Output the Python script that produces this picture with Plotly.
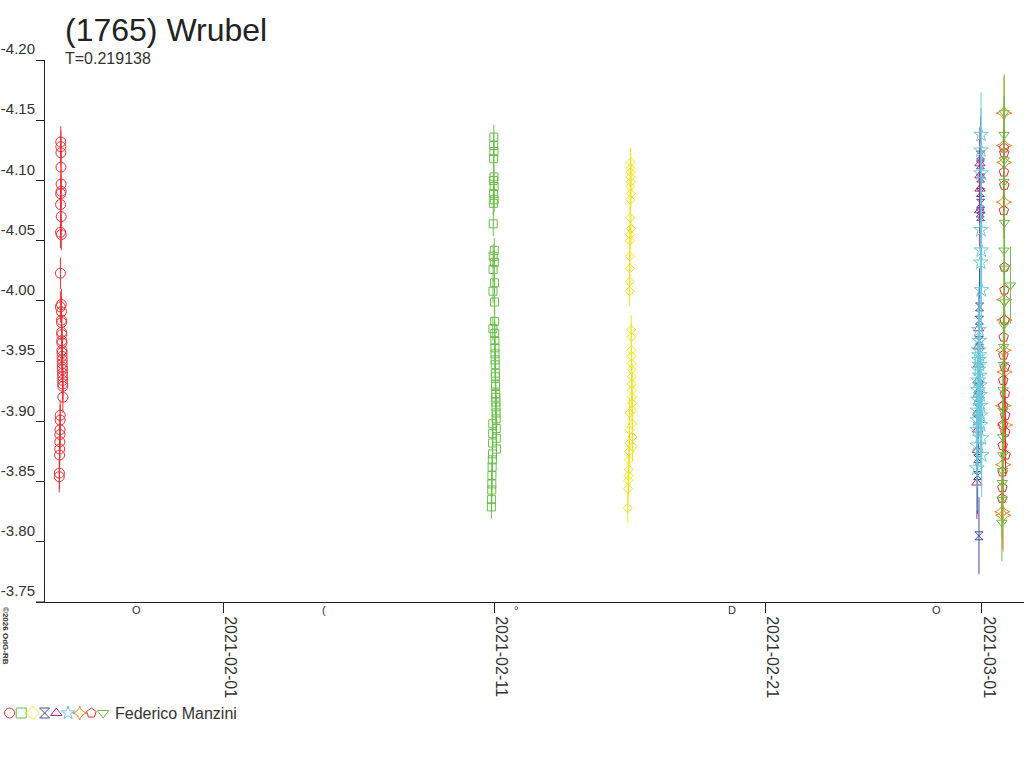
import plotly.graph_objects as go
import pandas as pd

# ---------------- data ----------------
# each session: UTC start, minute offsets, magnitudes, typical error
red_start = "2021-01-25 23:00"
red_min = [80, 84, 88, 92, 96, 100, 74, 70, 104, 66, 108, 62, 112, 58, 116, 120, 124, 128, 132, 136,
           140, 144, 148, 152, 156, 160, 164, 168, 172, 176, 180, 184, 188, 192, 50, 46, 40, 36, 30, 24,
           18, 8, 0]
red_mag = [-4.132, -4.128, -4.123, -4.111, -4.097, -4.091, -4.089, -4.080, -4.070, -4.057, -4.055, -4.023,
           -3.997, -3.995, -3.991, -3.984, -3.982, -3.974, -3.972, -3.967, -3.965, -3.959, -3.957, -3.954,
           -3.951, -3.948, -3.945, -3.943, -3.940, -3.937, -3.934, -3.931, -3.929, -3.920, -3.905, -3.901,
           -3.893, -3.889, -3.883, -3.877, -3.872, -3.857, -3.854]
red_err = 0.013

green_start = "2021-02-10 21:40"
green_min = [130, 125, 135, 120, 140, 115, 145, 110, 150, 105, 100, 155, 95, 160, 90, 165, 85, 170, 175, 80,
             180, 185, 190, 195, 200, 205, 210, 215, 220, 225, 230, 235, 240, 245, 250, 255, 75, 260, 70, 265,
             65, 270, 60, 50, 40, 30, 25, 20, 10, 0]
green_mag = [-4.136, -4.129, -4.124, -4.118, -4.103, -4.100, -4.095, -4.089, -4.084, -4.081, -4.064, -4.042,
             -4.037, -4.032, -4.026, -4.015, -4.008, -3.999, -3.983, -3.977, -3.973, -3.967, -3.961, -3.956,
             -3.951, -3.947, -3.940, -3.937, -3.931, -3.929, -3.923, -3.920, -3.916, -3.912, -3.907, -3.902,
             -3.898, -3.894, -3.890, -3.886, -3.882, -3.877, -3.873, -3.868, -3.862, -3.855, -3.848, -3.843,
             -3.835, -3.829]
green_err = 0.010

yellow_start = "2021-02-15 22:30"
yellow_min = [150, 145, 155, 140, 160, 135, 165, 130, 125, 170, 120, 115, 110, 105, 100, 95, 180, 185, 190, 195,
              200, 205, 210, 215, 220, 225, 230, 235, 90, 240, 85, 245, 80, 250, 70, 60, 50, 40, 30, 15, 0]
yellow_mag = [-4.115, -4.110, -4.107, -4.103, -4.099, -4.095, -4.089, -4.084, -4.069, -4.060, -4.055, -4.050,
              -4.037, -4.027, -4.016, -4.008, -3.976, -3.970, -3.959, -3.954, -3.948, -3.943, -3.937, -3.931,
              -3.926, -3.920, -3.915, -3.909, -3.907, -3.898, -3.893, -3.887, -3.882, -3.879, -3.875, -3.868,
              -3.860, -3.855, -3.851, -3.844, -3.828]
yellow_err = 0.012

blue_start = "2021-02-28 19:30"
blue_min = [200, 195, 205, 190, 210, 185, 215, 150, 140, 130, 100, 90, 80, 70, 50, 40, 120]
blue_mag = [-4.121, -4.113, -4.102, -4.090, -4.081, -4.073, -4.070, -3.995, -3.984, -3.967, -3.928, -3.920,
            -3.911, -3.901, -3.869, -3.855, -3.805]
blue_err = 0.032

magenta_start = "2021-02-28 19:00"
magenta_min = [200, 195, 205, 190, 140, 130, 120, 110, 100, 90, 80, 60, 40]
magenta_mag = [-4.114, -4.104, -4.093, -4.075, -3.977, -3.962, -3.947, -3.934, -3.922, -3.907, -3.893, -3.876,
               -3.849]
magenta_err = 0.030

cyan_start = "2021-02-28 19:30"
cyan_min = [230, 225, 235, 220, 240, 215, 245, 120, 130, 110, 140, 100, 150, 90, 160, 80, 170, 70, 180, 60,
            190, 50, 200, 40, 210, 30, 255, 20, 265, 10]
cyan_mag = [-4.138, -4.125, -4.106, -4.059, -4.042, -4.032, -4.009, -3.976, -3.967, -3.959, -3.955, -3.951,
            -3.947, -3.943, -3.938, -3.934, -3.930, -3.926, -3.922, -3.918, -3.913, -3.909, -3.905, -3.901,
            -3.897, -3.893, -3.886, -3.880, -3.872, -3.861]
cyan_err = 0.035

orange_start = "2021-03-01 16:00"
orange_min = [220, 215, 225, 210, 230, 240, 200, 250, 190, 260, 180, 130, 170]
orange_mag = [-4.156, -4.129, -4.115, -4.082, -4.001, -3.984, -3.959, -3.941, -3.913, -3.897, -3.864, -3.825,
              -3.822]
orange_err = 0.030

pent_start = "2021-03-01 16:00"
pent_min = [220, 230, 215, 235, 210, 240, 245, 250, 200, 190, 260, 180, 270, 170, 280, 160, 290, 150, 300, 140,
            130, 120]
pent_mag = [-4.127, -4.123, -4.107, -4.096, -4.075, -4.028, -4.009, -3.984, -3.970, -3.955, -3.945, -3.934,
            -3.923, -3.913, -3.905, -3.897, -3.891, -3.880, -3.872, -3.858, -3.845, -3.836]
pent_err = 0.016

gtri_start = "2021-03-01 16:00"
gtri_min = [230, 225, 235, 220, 240, 215, 245, 560, 250, 210, 200, 190, 180, 170, 160, 150, 140, 130, 120, 110]
gtri_mag = [-4.156, -4.138, -4.117, -4.099, -4.065, -4.042, -4.027, -4.013, -3.999, -3.980, -3.962, -3.947,
            -3.926, -3.909, -3.887, -3.872, -3.859, -3.849, -3.835, -3.816]
gtri_err = 0.032

y_ticks = [-4.20, -4.15, -4.10, -4.05, -4.00, -3.95, -3.90, -3.85, -3.80, -3.75]
x_ticks = ["2021-02-01", "2021-02-11", "2021-02-21", "2021-03-01"]
x_range = ["2021-01-25 10:22", "2021-03-02 13:22"]
moon_dates = ["2021-01-28 19:16", "2021-02-04 17:37", "2021-02-11 19:06", "2021-02-19 18:47", "2021-02-27 08:17"]
moon_marks = ["O", "(", "°", "D", "O"]
observer = "Federico Manzini"
title = "(1765) Wrubel"
period_text = "T=0.219138"

# ---------------- styling ----------------
series = [
    (red_start, red_min, red_mag, red_err, "circle-open", 10, "#ee3036"),
    (green_start, green_min, green_mag, green_err, "square-open", 8, "#6abf4b"),
    (yellow_start, yellow_min, yellow_mag, yellow_err, "diamond-open", 7, "#f5e41e"),
    (blue_start, blue_min, blue_mag, blue_err, "hourglass-open", 8, "#3a52a3"),
    (magenta_start, magenta_min, magenta_mag, magenta_err, "triangle-up-open", 9, "#b72a80"),
    (cyan_start, cyan_min, cyan_mag, cyan_err, "star-open", 11, "#6ccbdc"),
    (orange_start, orange_min, orange_mag, orange_err, "star-diamond-open", 11, "#f58220"),
    (pent_start, pent_min, pent_mag, pent_err, "pentagon-open", 10, "#ee2a2f"),
    (gtri_start, gtri_min, gtri_mag, gtri_err, "triangle-down-open", 9, "#6abd45"),
]

W, H = 1024, 768
FONT = "Liberation Sans, Arial, sans-serif"


def px_x(p):
    return p / W


def px_y(p):
    return (H - p) / H


fig = go.Figure()
for start, mins, mags, err, sym, size, col in series:
    t = pd.Timestamp(start) + pd.to_timedelta(mins, unit="min")
    fig.add_trace(go.Scatter(
        x=t, y=mags, mode="markers", xaxis="x", yaxis="y",
        marker=dict(symbol=sym, size=size, color=col, line=dict(color=col, width=1)),
        error_y=dict(type="constant", value=err, color=col, thickness=1, width=0),
        showlegend=False, hoverinfo="skip"))

# legend row (symbols on a helper pixel axis spanning screen x 0..256)
fig.add_trace(go.Scatter(
    x=[9.5 + 11.7 * i for i in range(len(series))], y=[17] * len(series),
    mode="markers", xaxis="x2", yaxis="y2",
    marker=dict(symbol=[s[4] for s in series], size=10,
                color=[s[6] for s in series], line=dict(color=[s[6] for s in series], width=1)),
    showlegend=False, hoverinfo="skip"))

fig.update_layout(
    width=W, height=H, autosize=False,
    margin=dict(l=0, r=0, t=0, b=0, pad=0),
    paper_bgcolor="white", plot_bgcolor="white",
    font=dict(family=FONT, color="#333333", size=16),
    xaxis=dict(type="date", domain=[px_x(45), 1], anchor="y", automargin=False,
               range=x_range,
               tickvals=x_ticks, ticktext=x_ticks, tickangle=90,
               ticks="outside", ticklen=10, tickcolor="#222", tickwidth=1,
               showline=True, linecolor="#222", linewidth=1,
               showgrid=False, zeroline=False, ticklabelshift=7,
               tickfont=dict(size=16, color="#333")),
    yaxis=dict(domain=[px_y(602), px_y(60)], anchor="x", automargin=False,
               range=[-3.75, -4.20], tickvals=y_ticks,
               ticktext=[f"{v:.2f}" for v in y_ticks],
               ticks="outside", ticklen=8, tickcolor="#222", tickwidth=1,
               ticklabelposition="outside top", ticklabelstandoff=6,
               showline=True, linecolor="#222", linewidth=1,
               showgrid=False, zeroline=False,
               tickfont=dict(size=15, color="#333")),
    xaxis2=dict(domain=[0, px_x(256)], range=[0, 256], anchor="y2",
                visible=False, fixedrange=True, automargin=False),
    yaxis2=dict(domain=[px_y(730), px_y(696)], range=[0, 34], anchor="x2",
                visible=False, fixedrange=True, automargin=False),
    shapes=[dict(type="line", xref="paper", yref="paper", x0=px_x(36), x1=px_x(45),
                 y0=px_y(602), y1=px_y(602), line=dict(color="#222", width=1))],
)

ann = [
    dict(text=title, x=px_x(63), y=px_y(30), xref="paper", yref="paper", xanchor="left", yanchor="middle",
         showarrow=False, font=dict(size=32, color="#222", family=FONT)),
    dict(text=period_text, x=px_x(63), y=px_y(58), xref="paper", yref="paper", xanchor="left",
         yanchor="middle", showarrow=False, font=dict(size=16, color="#333", family=FONT)),
    dict(text=observer, x=px_x(113), y=px_y(713), xref="paper", yref="paper", xanchor="left",
         yanchor="middle", showarrow=False, font=dict(size=16, color="#333", family=FONT)),
    dict(text="<b>©2026 OdG-RB</b>", x=px_x(6), y=px_y(636), xref="paper", yref="paper", xanchor="center",
         yanchor="middle", textangle=90, showarrow=False, font=dict(size=8, color="#333", family=FONT)),
]
for d, m in zip(moon_dates, moon_marks):
    ann.append(dict(text=m, x=d, y=px_y(602), xref="x", yref="paper", xanchor="center", yanchor="top",
                    showarrow=False, font=dict(size=11, color="#333", family=FONT)))
fig.update_layout(annotations=ann)

# remove the default 8px body margin of the page so the figure fills the window exactly
fig.write_html("out.html",
               config={"displayModeBar": False, "staticPlot": True},
               post_script="document.body.style.margin='0';document.body.style.padding='0';")
